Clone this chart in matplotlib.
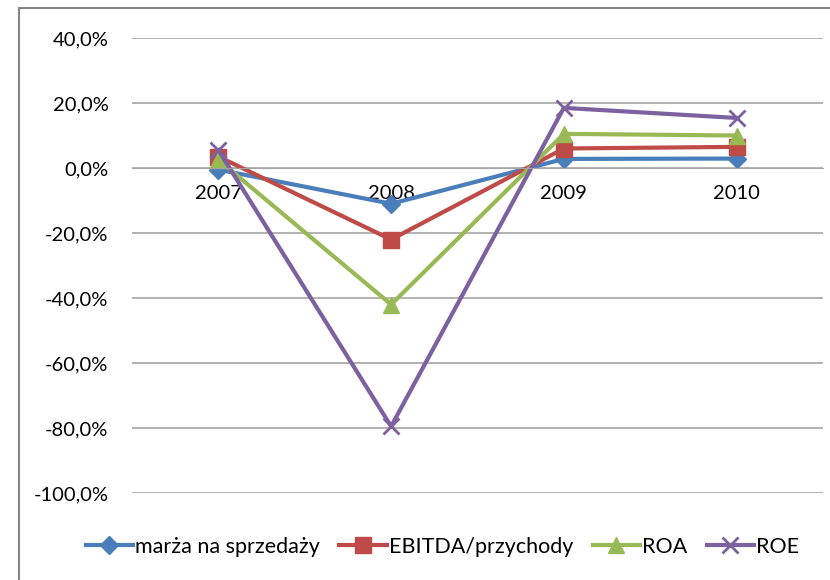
import matplotlib.pyplot as plt
from matplotlib.patches import Rectangle
from matplotlib.ticker import FuncFormatter

lata = ["2007", "2008", "2009", "2010"]
marza = [-0.5, -11.0, 2.8, 2.9]
ebitda = [3.5, -22.0, 6.0, 6.5]
roa = [2.5, -42.0, 10.5, 10.0]
roe = [5.5, -79.5, 18.5, 15.4]

serie = [
    ("marża na sprzedaży", marza, "#4A7EBB", "D", 9),
    ("EBITDA/przychody", ebitda, "#BE4B48", "s", 11),
    ("ROA", roa, "#98B954", "^", 12),
    ("ROE", roe, "#7D60A0", "x", 12),
]

plt.rcParams["font.family"] = ["Lato", "DejaVu Sans"]

fig = plt.figure(figsize=(8.3, 5.8), dpi=100)
ax = fig.add_axes([132 / 830, 1 - 493 / 580, 691 / 830, (493 - 38) / 580])

x = range(len(lata))
for nazwa, wartosci, kolor, znacznik, rozmiar in serie:
    ax.plot(x, wartosci, color=kolor, lw=3, marker=znacznik, ms=rozmiar,
            mew=2 if znacznik == "x" else 1, mec=kolor, label=nazwa)

ax.set_xlim(-0.5, len(lata) - 0.5)
ax.set_ylim(-100, 40)
ax.set_yticks(range(-100, 41, 20))
ax.yaxis.set_major_formatter(FuncFormatter(lambda v, p: f"{v:.1f}%".replace(".", ",")))
ax.grid(axis="y", color="#A6A6A6", lw=1.2)
ax.set_axisbelow(True)

ax.set_xticks(list(x))
ax.set_xticklabels(lata)
ax.spines["bottom"].set_position(("data", 0))
ax.spines["bottom"].set_color("#A6A6A6")
for s in ["left", "right", "top"]:
    ax.spines[s].set_visible(False)
ax.tick_params(axis="x", length=0, labelsize=14.5, pad=12)
ax.tick_params(axis="y", length=0, labelsize=14.5, pad=17)

fig.legend(loc="center", bbox_to_anchor=(0.533, 1 - 547 / 580), ncol=4, frameon=False,
           fontsize=15.5, handlelength=2.2, handletextpad=0.1, columnspacing=0.9)

fig.patches.append(Rectangle((19 / 830, -0.1), 1.2, 1 - 8 / 580 + 0.1,
                             transform=fig.transFigure, fill=False,
                             edgecolor="#868686", lw=1.5))

fig.savefig("out.png", dpi=100)
